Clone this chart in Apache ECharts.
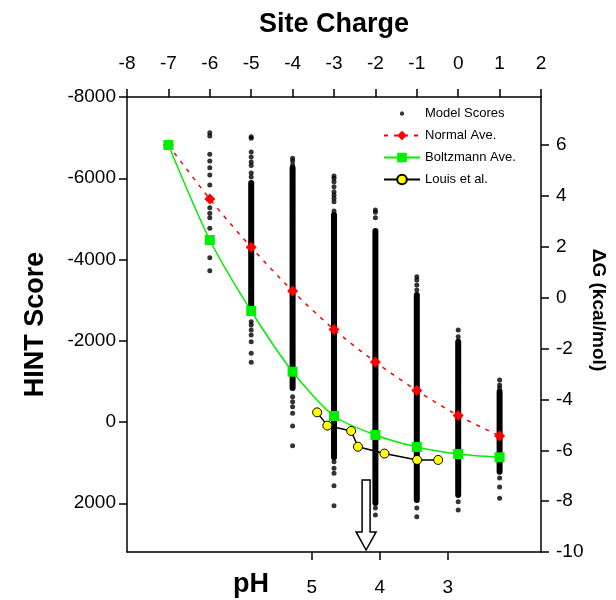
<!DOCTYPE html>
<html><head><meta charset="utf-8">
<script src="https://cdn.jsdelivr.net/npm/echarts@6/dist/echarts.min.js"></script>
<style>html,body{margin:0;padding:0;background:#fff}#c{width:616px;height:600px}</style>
</head><body><div id="c"></div>
<script>
// ---- data ----
const charges = [-7, -6, -5, -4, -3, -2, -1, 0, 1];
const normalAve = [-6818, -5489, -4300, -3225, -2277, -1477, -775, -160, 345];
const boltzmannAve = [-6818, -4480, -2732, -1238, -148, 320, 615, 788, 869];
// isolated model-score dots per charge column
const modelSparse = [
  [-6818],
  [-7121, -7040, -6589, -6425, -6260, -6080, -5834, -5489, -5275, -5137, -5029, -4768, -4480, -4044, -3724],
  [-7023, -6983, -6646, -6523, -6400, -6314, -6129, -6031, -2469, -2388, -2265, -2142, -1977, -1691, -1470],
  [-6491, -6425, -6326, -623, -500, -377, -214, 98, 583],
  [-6055, -5999, -5915, -5792, -5669, -5588, -5506, -5423, -5194, 977, 1140, 1263, 1568, 2060],
  [-5218, -5162, -5029, 2117, 2289],
  [-3577, -3495, -3372, -3249, 2117, 2331],
  [-2265, -2100, 1962, 2166],
  [-1034, -911, -837, 1378, 1600, 1878]
];
// continuous (densely packed) part of each model-score column
const modelDenseTop = [null, null, -5883, -6252, -5095, -4702, -3126, -1977, -746];
const modelDenseBottom = [null, null, -2831, -837, 870, 1994, 1920, 1797, 1223];
// Louis et al. (pH vs dG)
const louisPH = [4.92, 4.77, 4.42, 4.32, 3.93, 3.45, 3.14];
const louisDG = [-4.51, -5.03, -5.24, -5.86, -6.13, -6.38, -6.38];
// axis ticks
const hintTicks = [-8000, -6000, -4000, -2000, 0, 2000];
const dgTicks = [-10, -8, -6, -4, -2, 0, 2, 4, 6];
const phTicks = [5, 4, 3];
// arrow annotation (pH, dG top, dG head base, dG tip)
const arrowPH = [4.2];
const arrowTop = [-7.17];
const arrowHead = [-9.21];
const arrowTip = [-10];

const FONT = 'Liberation Sans, Arial, Helvetica, sans-serif';

const modelData = [];
charges.forEach((c, i) => modelSparse[i].forEach(v => modelData.push([c, v])));
const denseData = [];
charges.forEach((c, i) => {
  if (modelDenseTop[i] != null) {
    denseData.push([c, modelDenseTop[i]], [c, modelDenseBottom[i]], [c, '-']);
  }
});

const axisLineStyle = { show: true, onZero: false, lineStyle: { color: '#000', width: 1.5 } };
const tickStyle = { show: true, inside: false, length: 8, lineStyle: { color: '#000', width: 1.5 } };
const plain = v => String(v);
const labelBase = { color: '#000', fontSize: 19, fontFamily: FONT, formatter: plain };

const chart = echarts.init(document.getElementById('c'), null, { renderer: 'canvas' });
chart.setOption({
  animation: false,
  backgroundColor: '#fff',
  grid: { left: 127, right: 75, top: 97, bottom: 48, containLabel: false, outerBoundsMode: 'none' },
  legend: {
    orient: 'vertical', left: 378, top: 102, itemWidth: 36, itemHeight: 12, itemGap: 9,
    textStyle: { color: '#000', fontSize: 13, fontFamily: FONT },
    data: [
      { name: 'Model Scores', icon: 'path://M0,0M36,12M17,4L19,4L20,5L20,7L19,8L17,8L16,7L16,5Z' },
      'Normal Ave.', 'Boltzmann Ave.', 'Louis et al.'
    ]
  },
  xAxis: [
    {
      type: 'value', position: 'top', min: -8, max: 2, interval: 1,
      axisLine: axisLineStyle, axisTick: tickStyle,
      axisLabel: Object.assign({}, labelBase, { margin: 24 }),
      splitLine: { show: false },
      name: 'Site Charge', nameLocation: 'middle', nameGap: 59,
      nameTextStyle: { color: '#000', fontSize: 27, fontWeight: 'bold', fontFamily: FONT }
    },
    {
      type: 'value', position: 'bottom', min: 1.628, max: 7.716, inverse: true,
      axisLine: axisLineStyle,
      axisTick: Object.assign({ customValues: phTicks }, tickStyle),
      axisLabel: Object.assign({}, labelBase, { margin: 26, customValues: phTicks }),
      splitLine: { show: false }
    }
  ],
  yAxis: [
    {
      type: 'value', position: 'left', min: -8000, max: 3200, inverse: true,
      axisLine: axisLineStyle,
      axisTick: Object.assign({ customValues: hintTicks }, tickStyle),
      axisLabel: Object.assign({}, labelBase, { margin: 11, customValues: hintTicks }),
      splitLine: { show: false },
      name: 'HINT Score', nameLocation: 'middle', nameGap: 78,
      nameTextStyle: { color: '#000', fontSize: 27, fontWeight: 'bold', fontFamily: FONT }
    },
    {
      type: 'value', position: 'right', min: -10, max: 7.89,
      axisLine: axisLineStyle,
      axisTick: Object.assign({ customValues: dgTicks }, tickStyle),
      axisLabel: Object.assign({}, labelBase, { margin: 15, customValues: dgTicks }),
      splitLine: { show: false }
    }
  ],
  graphic: [
    { type: 'text', x: 598, y: 310, rotation: -Math.PI / 2,
      style: { text: 'ΔG (kcal/mol)', fill: '#000', font: 'bold 19px ' + FONT, textAlign: 'center', textVerticalAlign: 'middle' } },
    { type: 'text', x: 251, y: 585,
      style: { text: 'pH', fill: '#000', font: 'bold 27px ' + FONT, textAlign: 'center', textVerticalAlign: 'middle' } }
  ],
  series: [
    {
      name: 'Model dense', type: 'line', xAxisIndex: 0, yAxisIndex: 0, data: denseData,
      showSymbol: false, symbol: 'none', connectNulls: false, silent: true,
      lineStyle: { color: '#000', width: 6, cap: 'round' }, z: 1
    },
    {
      name: 'Model Scores', type: 'scatter', xAxisIndex: 0, yAxisIndex: 0, data: modelData,
      symbol: 'circle', symbolSize: 5, itemStyle: { color: '#000' }, z: 2
    },
    {
      name: 'Normal Ave.', type: 'line', xAxisIndex: 0, yAxisIndex: 0,
      data: charges.map((c, i) => [c, normalAve[i]]), smooth: 0.3,
      symbol: 'diamond', symbolSize: 11, itemStyle: { color: '#ff0000' },
      lineStyle: { color: '#ff0000', width: 1.5, type: [4, 6] }, z: 3
    },
    {
      name: 'Boltzmann Ave.', type: 'line', xAxisIndex: 0, yAxisIndex: 0,
      data: charges.map((c, i) => [c, boltzmannAve[i]]), smooth: 0.25,
      symbol: 'rect', symbolSize: 10, itemStyle: { color: '#00ee00' },
      lineStyle: { color: '#00ee00', width: 1.5 }, z: 4
    },
    {
      name: 'Louis et al.', type: 'line', xAxisIndex: 1, yAxisIndex: 1,
      data: louisPH.map((p, i) => [p, louisDG[i]]),
      symbol: 'circle', symbolSize: 9,
      itemStyle: { color: '#ffff00', borderColor: '#000', borderWidth: 1 },
      lineStyle: { color: '#000', width: 1.5 }, z: 5
    },
    {
      name: 'arrow', type: 'custom', xAxisIndex: 1, yAxisIndex: 1, silent: true, z: 6,
      data: arrowPH.map((p, i) => [p, arrowTop[i], arrowHead[i], arrowTip[i]]),
      renderItem: function (params, api) {
        const ph = api.value(0);
        const top = api.coord([ph, api.value(1)]);
        const head = api.coord([ph, api.value(2)]);
        const tip = api.coord([ph, api.value(3)]);
        const x = top[0], sw = 4, hw = 10;
        return {
          type: 'polygon',
          shape: { points: [[x - sw, top[1]], [x + sw, top[1]], [x + sw, head[1]], [x + hw, head[1]],
                            [x, tip[1] - 2], [x - hw, head[1]], [x - sw, head[1]]] },
          style: { fill: '#fff', stroke: '#000', lineWidth: 1.5 }
        };
      }
    }
  ]
});
</script>
</body></html>
